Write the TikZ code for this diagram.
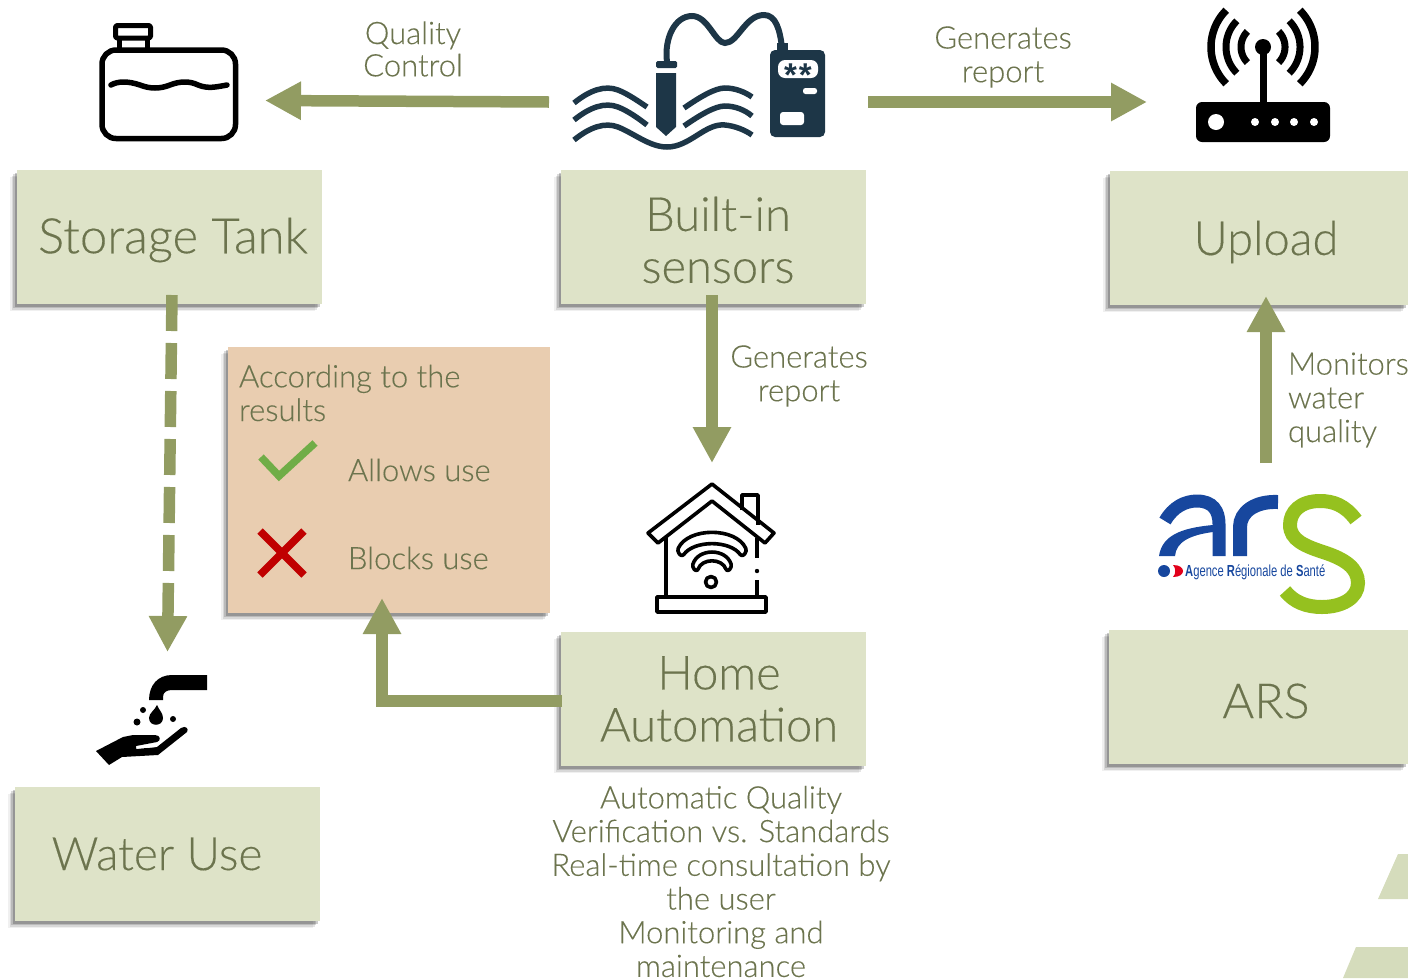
\documentclass[tikz,border=0pt]{standalone}
\usepackage{fontspec}
\usepackage{graphicx}
\setmainfont{Lato}[UprightFont=* Light,RawFeature={embolden=0.25}]
\newfontfamily\arsfont{Liberation Sans}
\usetikzlibrary{arrows.meta,shadows,calc}
\definecolor{boxfill}{HTML}{DEE3C8}
\definecolor{boxtext}{HTML}{6C744E}
\definecolor{arrowc}{HTML}{929C62}
\definecolor{orangefill}{HTML}{E9CDB0}
\definecolor{probe}{HTML}{1D3647}
\definecolor{arsblue}{HTML}{17479E}
\definecolor{arsgreen}{HTML}{95C11F}
\definecolor{arsred}{HTML}{E2001A}
\definecolor{corner}{HTML}{D5DCBC}
\newcommand{\dn}[2][3pt]{\raisebox{-#1}[\height][\depth]{#2}}
\tikzset{
  softshadow/.style={
    general shadow={fill=black,opacity=.06,shadow xshift=-7pt,shadow yshift=-7pt},
    general shadow={fill=black,opacity=.10,shadow xshift=-5.5pt,shadow yshift=-5.5pt},
    general shadow={fill=black,opacity=.14,shadow xshift=-4pt,shadow yshift=-4pt},
    general shadow={fill=black,opacity=.20,shadow xshift=-2.5pt,shadow yshift=-2.5pt}},
  labelbox/.style={fill=boxfill,text=boxtext,softshadow,inner sep=0pt,outer sep=0pt,align=center,
    font=\fontsize{47}{52}\selectfont},
  lab/.style={text=boxtext,inner sep=0pt,outer sep=0pt,align=center,font=\fontsize{31}{33.7}\selectfont},
  flow/.style={draw=arrowc,line width=11.5pt,-{Triangle[length=36pt,width=36pt]}},
  dashflow/.style={flow,dash pattern=on 36pt off 12pt},
  iconblack/.style={line width=5.5pt,draw=black,line join=round},
  probeline/.style={line width=5.5pt,draw=probe,line cap=butt}
}
\begin{document}
\begin{tikzpicture}[x=1pt,y=-1pt]
\useasboundingbox (0,0) rectangle (1408,978);
% corner shapes
\fill[corner] (1398,854) -- (1408,854) -- (1408,899) -- (1378,899) -- cycle;
\fill[corner] (1356,947) -- (1408,947) -- (1408,978) -- (1343,978) -- cycle;
% boxes
\node[labelbox,font=\fontsize{49}{52}\selectfont,minimum width=305pt,minimum height=134pt] (storage) at (169.5,237) {\hspace*{7pt}\dn{Storage Tank}};
\node[labelbox,minimum width=305pt,minimum height=134pt] (sensors) at (713.5,237) {\hspace*{9pt}\dn{Built-in}\\\hspace*{9pt}\dn{sensors}};
\node[labelbox,minimum width=298pt,minimum height=134pt] (upload) at (1259,238) {\hspace*{14pt}\dn[4pt]{Upload}};
\node[labelbox,minimum width=305pt,minimum height=134pt] (home) at (713.5,699) {\hspace*{11pt}Home\\\hspace*{11pt}Automation};
\node[labelbox,font=\fontsize{48.5}{52}\selectfont,minimum width=299pt,minimum height=134pt] (ars) at (1258.5,697) {\hspace*{15pt}\dn[4pt]{ARS}};
\node[labelbox,font=\fontsize{46}{52}\selectfont,minimum width=305pt,minimum height=134pt] (wateruse) at (167.5,854) {\hspace*{-21pt}Water Use};
\node[fill=orangefill,softshadow,inner sep=0pt,outer sep=0pt,minimum width=322pt,minimum height=266pt] (result) at (389,480) {};
% coordinates for the free ends
\coordinate (tankend) at (265,100.5);
\coordinate (probestart) at (549,102);
\coordinate (probestartb) at (868,102);
\coordinate (routerend) at (1147,102);
\coordinate (houseend) at (712,463);
\coordinate (arsstart) at (1266,463);
\coordinate (handend) at (167.5,652);
% connectors
\draw[flow] (probestart) -- (tankend);
\draw[flow] (probestartb) -- (routerend);
\draw[flow] ($(sensors.south)+(-1.5,-9)$) -- (houseend);
\draw[flow] (arsstart) -- ($(upload.south)+(7,-9)$);
\draw[dashflow] ($(storage.south)+(2.5,-9)$) -- (handend);
\draw[flow] ($(home.west)+(1,2)$) -| ($(result.south)+(-7,-15)$);
% labels
\node[lab,font=\fontsize{31}{32.3}\selectfont] (qc) at (413,49) {Quality\\Control};
\node[lab] (gr1) at (1003,57) {Generates\\report};
\node[lab] (gr2) at (799,376) {Generates\\report};
\node[lab,align=left,anchor=west] (mon) at (1288,400) {Monitors\\water\\quality};
\node[lab] (auto) at (721,881.5) {Automatic Quality\\Verification vs. Standards\\Real-time consultation by\\the user\\Monitoring and\\maintenance};
\node[lab,align=left,anchor=west] (acc) at (239,393) {According to the\\results};
\node[lab,anchor=west] (allow) at (348,470) {Allows use};
\node[lab,anchor=west] (block) at (348,558) {Blocks use};
% check and cross
\draw[line width=7.5pt,draw={rgb,255:red,112;green,173;blue,71}] (261,457) -- (279,476) -- (315,443);
\draw[line width=7.5pt,draw={rgb,255:red,192;green,0;blue,0}] (260,531) -- (304,575) (304,531) -- (260,575);
% tank icon
\draw[iconblack,rounded corners=14pt] (102,50) rectangle (235.5,138.5);
\draw[iconblack,line width=5pt,rounded corners=1.5pt] (115.5,25.5) rectangle (150.5,38);
\draw[iconblack,line width=5pt] (119,38) -- (119,48) (147,38) -- (147,48);
\draw[iconblack,line cap=round,line width=5.5pt] (111,85) .. controls (118,81) and (128,81) .. (140,85) .. controls (150,89) and (160,89) .. (170,85) .. controls (180,81) and (190,81) .. (198,85) .. controls (208,89) and (216,87) .. (227,85);
% sensor icon
\draw[line width=6pt,draw=probe] (667,62) .. controls (664,38) and (675,16) .. (692,16) .. controls (708,16) and (715,43) .. (725,43) .. controls (738,43) and (745,15) .. (764,15) .. controls (776,15) and (780,30) .. (782,48);
\fill[probe,rounded corners=1.5pt] (656,61) rectangle (677,68);
\fill[probe] (656,73) -- (676,73) -- (676,127) -- (666,136) -- (656,127) -- cycle;
\fill[probe] (777,43) rectangle (788,52);
\fill[probe,rounded corners=5pt] (770,50) rectangle (825,137);
\fill[white,rounded corners=7pt] (778,60) rectangle (818,78);
\node[text=probe,inner sep=0pt,font=\arsfont\fontsize{33}{33}\selectfont\bfseries] (stars) at (798,75.5) {*\hspace{2pt}*};
\fill[white,rounded corners=2.5pt] (803,88) rectangle (817,94);
\fill[white,rounded corners=3pt] (780,112) rectangle (804,125);
\draw[probeline] (574,103) .. controls (590,90) and (605,85) .. (618,90) .. controls (628,94) and (638,101) .. (647,107);
\draw[probeline] (574,120) .. controls (590,107) and (605,102) .. (618,107) .. controls (628,111) and (638,118) .. (647,125);
\draw[probeline] (574,140) .. controls (590,127) and (605,122) .. (618,127) .. controls (635,134) and (650,147) .. (667,147) .. controls (690,147) and (705,123) .. (725,125) .. controls (735,126) and (745,130) .. (752,135);
\draw[probeline] (684,108) .. controls (700,97) and (715,88) .. (725,88) .. controls (735,88) and (745,92) .. (752,97);
\draw[probeline] (684,126) .. controls (700,115) and (715,106) .. (725,106) .. controls (735,106) and (745,110) .. (752,116);
% router icon
\fill[black,rounded corners=6pt] (1196,102) rectangle (1330,142);
\fill[white] (1216,122) circle[radius=8];
\foreach \cx in {1255,1275,1294,1314} \fill[white] (\cx,122) circle[radius=4];
\draw[line width=7pt,black] (1263,47) -- (1263,104);
\fill[black] (1263,47) circle[radius=8];
\foreach \rr/\lw in {22/7,37/7,52/7.5}{
  \draw[line width=\lw pt,black] plot[domain=135:225,samples=30] ({1263+\rr*cos(\x)},{47+\rr*sin(\x)});
  \draw[line width=\lw pt,black] plot[domain=-45:45,samples=30] ({1263+\rr*cos(\x)},{47+\rr*sin(\x)});
}
% house icon
\begin{scope}[line width=3.6pt,draw=black,line join=round]
\draw (712,484) -- (774,533) -- (765,543) -- (712,501) -- (658,543) -- (648,533) -- cycle;
\draw (742,510) -- (742,495) -- (758,495) -- (758,525);
\draw (666,537) -- (666,597);
\draw (757,538) -- (757,558);
\draw (757,580) -- (757,597);
\fill (757,571) circle[radius=2.2];
\draw (657,597) rectangle (766,612);
\draw[rounded corners=3pt] (677,551) .. controls (688,527) and (736,527) .. (747,551) -- (742,557) .. controls (730,540) and (694,540) .. (682,557) -- cycle;
\draw[rounded corners=3pt] (692,567) .. controls (698,548) and (726,548) .. (732,567) -- (727,572) .. controls (722,558) and (702,558) .. (697,572) -- cycle;
\draw (711,582) circle[radius=5.5];
\end{scope}
% hand icon
\fill[black] (207,675) -- (172,675) .. controls (158,675) and (149,685) .. (149,700) -- (163,700) -- (163,697) .. controls (163,692) and (167,690) .. (172,690) -- (207,690) -- cycle;
\fill[black] (157,705) .. controls (159,710) and (163,713) .. (163,718) .. controls (163,727) and (149,727) .. (149,718) .. controls (149,713) and (155,710) .. (157,705) -- cycle;
\fill[black] (143,710) circle[radius=3] (137,722) circle[radius=3.5] (173,719) circle[radius=3];
\fill[black,line join=round] (96,751) -- (123,737) -- (133,735) -- (155,735) .. controls (161,735) and (161,741) .. (157,742) -- (136,746) -- (136,749) -- (157,747) -- (181,728) .. controls (186,725) and (189,729) .. (187,732) -- (158,755) -- (122,757) -- (109,765) -- cycle;
\draw[white,line width=2pt] (137,747.5) -- (156,746);
% ars logo
\draw[line width=13pt,arsblue] (1165,521) .. controls (1173,507) and (1185,501) .. (1197,501) .. controls (1213,501) and (1219,511) .. (1219,524) -- (1219,556);
\fill[arsblue] (1159,556) .. controls (1162,536) and (1180,528) .. (1213,525) -- (1213,532) .. controls (1190,535) and (1176,542) .. (1175,556) -- cycle;
\draw[line width=14pt,arsblue] (1240,556) -- (1240,527) .. controls (1240,512) and (1255,501) .. (1278,502);
\draw[line width=14pt,arsgreen] (1356,520) .. controls (1345,505) and (1333,501) .. (1320,501) .. controls (1300,501) and (1290,512) .. (1290,525) .. controls (1290,540) and (1305,546) .. (1323,552) .. controls (1345,559) and (1358,568) .. (1358,583) .. controls (1358,598) and (1342,607) .. (1322,607) .. controls (1306,607) and (1294,602) .. (1285,591);
\fill[arsblue] (1164,571) circle[radius=6];
\fill[arsred] (1173,565) .. controls (1180,565) and (1183,568) .. (1183,571) .. controls (1183,574) and (1180,577) .. (1173,577) .. controls (1176,574) and (1176,568) .. (1173,565) -- cycle;
\node[text=arsblue,inner sep=0pt,anchor=west,font=\arsfont\fontsize{16}{16}\selectfont] (arstext) at (1185,572) {\scalebox{0.70}[1]{\textbf{A}gence \textbf{R}égionale de \textbf{S}anté}};
\end{tikzpicture}
\end{document}
